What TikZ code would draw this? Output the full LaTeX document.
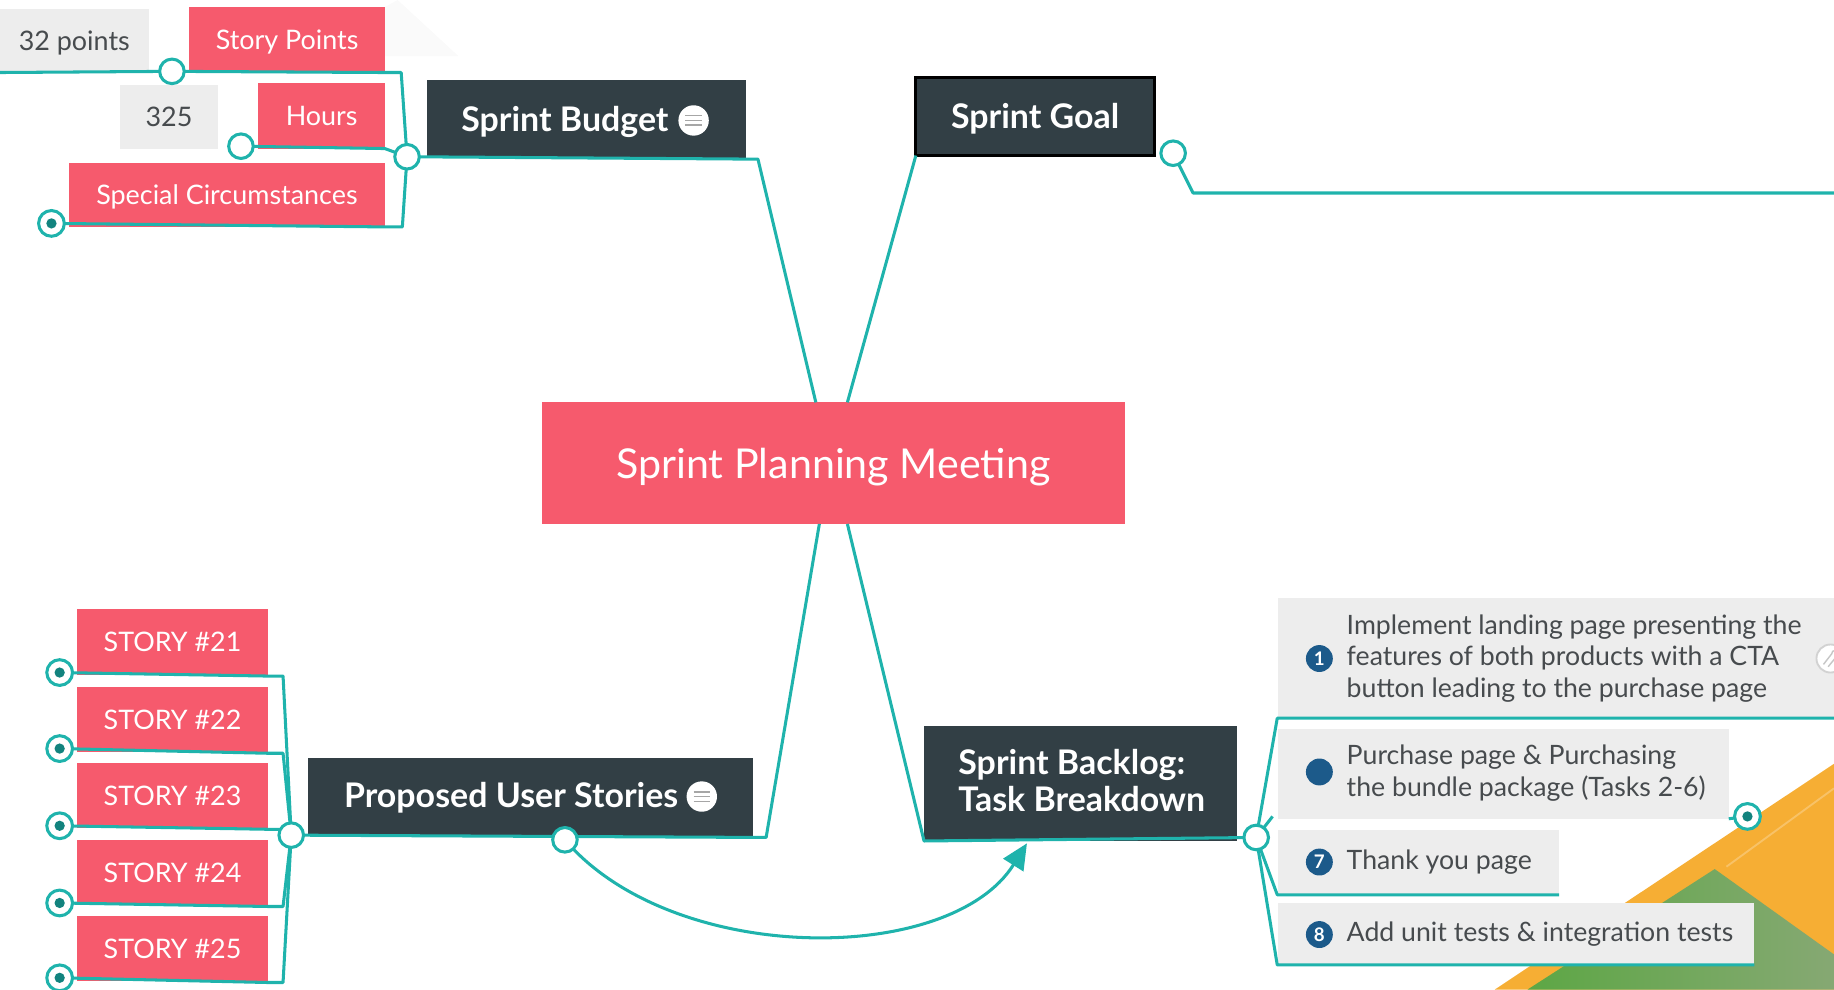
\documentclass[tikz,border=0pt]{standalone}
\usepackage{fontspec}
\setmainfont{Lato}
\usetikzlibrary{arrows.meta}
\definecolor{tealc}{HTML}{1FB3AC}
\definecolor{pinkc}{HTML}{F65A6D}
\definecolor{darkc}{HTML}{323F45}
\definecolor{grayc}{HTML}{EDEDED}
\definecolor{textc}{HTML}{474B4E}
\definecolor{bluec}{HTML}{1C5A8A}
\definecolor{dotc}{HTML}{12837E}
\definecolor{orangec}{HTML}{F6AE34}
\definecolor{greenA}{HTML}{5DA745}
\definecolor{greenB}{HTML}{86A873}
\begin{document}
\begin{tikzpicture}[x=0.5pt,y=-0.5pt,
  box/.style={anchor=north west, inner sep=0pt, outer sep=0pt, align=center},
  pinkbox/.style={box, fill=pinkc, text=white, text depth=0pt, font=\fontsize{11.5}{13}\selectfont},
  graybox/.style={box, fill=grayc, text=textc, text depth=0pt, font=\fontsize{11.5}{13}\selectfont},
  darkbox/.style={box, fill=darkc},
  darktext/.style={inner sep=0pt, text=white, text depth=0pt, font=\bfseries\fontsize{14.5}{16}\selectfont, align=left},
  tasktext/.style={inner sep=0pt, anchor=west, text=textc, align=left, font=\fontsize{11.4}{13.5}\selectfont},
  conn/.style={draw=tealc, line width=1.3pt, line join=round},
  opencirc/.style={circle, draw=tealc, fill=white, line width=1.3pt, minimum size=10.5pt, inner sep=0pt},
  dotcirc/.style={opencirc, minimum size=11pt, path picture={\fill[dotc] (path picture bounding box.center) circle (2.2pt);}},
  numc/.style={circle, fill=bluec, text=white, minimum size=11.5pt, inner sep=0pt, font=\bfseries\fontsize{8}{8}\selectfont},
  noteicon/.style={circle, fill=white, minimum size=13pt, inner sep=0pt,
    path picture={\draw[gray!70, line width=0.6pt]
      ([xshift=-3.5pt,yshift=2pt]path picture bounding box.center) -- ++(7pt,0)
      ([xshift=-3.5pt]path picture bounding box.center) -- ++(7pt,0)
      ([xshift=-3.5pt,yshift=-2pt]path picture bounding box.center) -- ++(7pt,0);}}
]
\useasboundingbox (0,0) rectangle (1568,846);
% background corner decoration
\fill[orangec] (1278,846) -- (1568,653) -- (1568,846) -- cycle;
\shade[left color=greenA, right color=greenB] (1306,846) -- (1466,743) -- (1568,816) -- (1568,846) -- cycle;
\draw[orangec!75!white, line width=0.8pt] (1476,741) -- (1568,674);
% faint shadow near top
\fill[gray!4] (329,6) -- (340,0) -- (392,48) -- (329,48) -- cycle;

% ---------- boxes ----------
\node[graybox, minimum width=63.5pt, minimum height=27pt] (pts) at (0,8) {32 points};
\node[pinkbox, minimum width=83.5pt, minimum height=28pt] (sp) at (162,6) {Story Points};
\node[graybox, minimum width=41.5pt, minimum height=27pt] (n325) at (103,73) {325};
\node[pinkbox, minimum width=54pt, minimum height=28pt] (hrs) at (221,71) {Hours};
\node[pinkbox, minimum width=135pt, minimum height=27.5pt] (sc) at (59,139) {Special Circumstances};

\node[darkbox, minimum width=136.5pt, minimum height=33.5pt] (sb) at (365,68) {};
\node[darktext] (sbt) at (483,102) {Sprint Budget};
\node[noteicon] (sbi) at (593,103) {};

\node[darkbox, draw=black, line width=1.3pt, minimum width=102pt, minimum height=33.5pt] (sg) at (783,66) {};
\node[darktext] (sgt) at (885,99) {Sprint Goal};

\node[box, fill=pinkc, text=white, text depth=0pt, font=\fontsize{17.6}{20}\selectfont, minimum width=249.5pt, minimum height=52pt] (cen) at (463,344) {Sprint Planning Meeting};

\node[darkbox, minimum width=190.5pt, minimum height=33.5pt] (pus) at (263,648) {};
\node[darktext] (pust) at (437,680) {Proposed User Stories};
\node[noteicon] (pusi) at (600,681) {};

\node[darkbox, minimum width=134pt, minimum height=49pt] (sbl) at (790,621) {};
\node[darktext, anchor=west] (sblt) at (819,667) {Sprint Backlog:\\Task Breakdown};

\foreach \y/\n in {521/21,587/22,652/23,718/24,783/25}{
  \node[pinkbox, minimum width=81.5pt, minimum height=28pt] (s\n) at (66,\y) {STORY \#\n};
}

\node[box, fill=grayc, minimum width=241pt, minimum height=51.5pt] (t1) at (1093,511) {};
\node[box, fill=grayc, minimum width=192.5pt, minimum height=38.5pt] (t2) at (1093,623) {};
\node[box, fill=grayc, minimum width=120pt, minimum height=27.5pt] (t7) at (1093,710) {};
\node[box, fill=grayc, minimum width=203.5pt, minimum height=26.5pt] (t8) at (1093,772) {};
\node[tasktext] (t1t) at (1151,563) {Implement landing page presenting the\\features of both products with a CTA\\button leading to the purchase page};
\node[tasktext] (t2t) at (1151,661) {Purchase page \& Purchasing\\the bundle package (Tasks 2-6)};
\node[tasktext] (t7t) at (1151,737) {Thank you page};
\node[tasktext] (t8t) at (1151,799) {Add unit tests \& integration tests};
\node[numc] (n1) at (1128,563) {1};
\node[numc] (n2) at (1128,660) {};
\node[numc] (n7) at (1128,737) {7};
\node[numc] (n8) at (1128,799) {8};
\node[circle, draw=gray!35, fill=white, line width=0.8pt, minimum size=12pt, inner sep=0pt] (clip) at (1565,563) {};
\draw[gray!45, line width=0.6pt] (1559,568) -- (1566,559) arc (180:0:1.5pt) -- (1563,570);

% ---------- collapse points ----------
\coordinate (cA) at (147,61);
\coordinate (cB) at (206,125);
\coordinate (cC) at (348,134);
\coordinate (cD) at (44,191);
\coordinate (cG) at (1003,131);
\coordinate (cP) at (249,714);
\coordinate (cQ) at (483,718);
\coordinate (cT) at (1074,716);
\coordinate (d21) at (51,575);
\coordinate (d22) at (51,640);
\coordinate (d23) at (51,706);
\coordinate (d24) at (51,772);
\coordinate (d25) at (51,836);
\coordinate (dT2) at (1494,698);
\coordinate (goalEnd) at (1568,165);
\coordinate (t1End) at (1568,614);

% ---------- connectors ----------
\path[conn] (pts.south west) -- (cA);
\path[conn] (cA) -- (sp.south east) -- ([xshift=7pt]sp.south east) -- (cC);
\path[conn] (cB) -- (hrs.south east) -- (cC);
\path[conn] (cD) -- (sc.south east) -- ([xshift=7.5pt]sc.south east) -- (cC);
\path[conn] (cC) -- ([yshift=-0.5pt]sb.south east) -- ([xshift=5pt,yshift=-0.5pt]sb.south east) -- ([xshift=-7.5pt]cen.north);
\path[conn] (sg.south west) -- ([xshift=6pt]cen.north);
\path[conn] (cG) -- (1020,165) -- (goalEnd);
\path[conn] ([xshift=-6pt]cen.south) -- ([xshift=5.5pt,yshift=-0.5pt]pus.south east) -- (cP);
\path[conn] ([xshift=6pt]cen.south) -- (sbl.south west) -- (cT);
\foreach \n in {21,22,23,24,25}{
  \path[conn] (d\n) -- ([yshift=-0.5pt]s\n.south east) -- ([xshift=6.5pt,yshift=-0.5pt]s\n.south east) -- (cP);
}
\path[conn] (cT) -- ([xshift=-0.5pt]t1.south west) -- (t1End);
\path[conn] (cT) -- ([xshift=-2.5pt,yshift=1pt]t2.south west);
\path[conn] (cT) -- ([xshift=-0.5pt]t7.south west) -- (t7.south east);
\path[conn] (cT) -- ([xshift=-0.5pt]t8.south west) -- (t8.south east);
\path[conn] (t2.south east) -- (dT2);
\draw[tealc, line width=1.3pt, -{Triangle[length=11pt,width=10pt]}]
  (cQ) .. controls (575,826) and (812,826) .. ([xshift=44pt,yshift=-1pt]sbl.south west);

% ---------- collapse circles ----------
\foreach \c in {cA,cB,cC,cG,cP,cQ,cT}{ \node[opencirc] at (\c) {}; }
\foreach \c in {cD,d21,d22,d23,d24,d25,dT2}{ \node[dotcirc] at (\c) {}; }
\end{tikzpicture}
\end{document}
